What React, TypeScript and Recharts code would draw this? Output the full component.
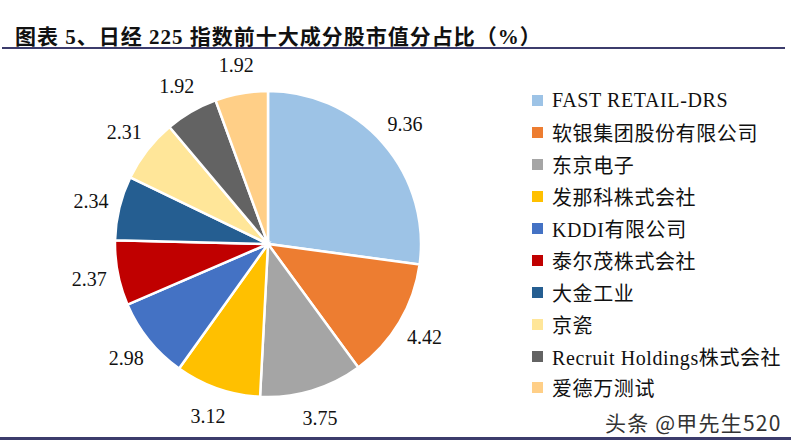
import React from 'react';
import { PieChart, Pie, Cell, Legend } from 'recharts';

const names = [
  'FAST RETAIL-DRS',
  '软银集团股份有限公司',
  '东京电子',
  '发那科株式会社',
  'KDDI有限公司',
  '泰尔茂株式会社',
  '大金工业',
  '京瓷',
  'Recruit Holdings株式会社',
  '爱德万测试',
];
const shares = [9.36, 4.42, 3.75, 3.12, 2.98, 2.37, 2.34, 2.31, 1.92, 1.92];
const colors = ['#9DC3E6', '#ED7D31', '#A5A5A5', '#FFC000', '#4472C4', '#C00000', '#255E91', '#FFE699', '#636363', '#FFCF87'];

const data = names.map((name, i) => ({ name, value: shares[i] }));

const RADIAN = Math.PI / 180;
const serif = '"Liberation Serif", "Noto Sans CJK SC", serif';

const renderLabel = (props: any) => {
  const { cx, cy, midAngle, outerRadius, value } = props;
  const r = outerRadius + 29;
  const x = cx + r * Math.cos(-midAngle * RADIAN);
  const y = cy + r * Math.sin(-midAngle * RADIAN);
  return (
    <text x={x} y={y} textAnchor="middle" dominantBaseline="central" fill="#111" fontSize={20} fontFamily={serif}>
      {value.toFixed(2)}
    </text>
  );
};

const renderLegend = () => (
  <div style={{ fontFamily: serif, fontSize: 20, color: '#111', letterSpacing: 0.6 }}>
    {data.map((d, i) => (
      <div key={d.name} style={{ display: 'flex', alignItems: 'center', height: 31.9 }}>
        <span style={{ width: 11, height: 11, background: colors[i], display: 'inline-block', marginRight: 9 }} />
        <span>{d.name}</span>
      </div>
    ))}
  </div>
);

export default function App() {
  return (
    <div style={{ position: 'absolute', left: 0, top: 0, width: 791, height: 440, background: '#fff', overflow: 'hidden' }}>
      <div
        style={{
          position: 'absolute',
          left: 15,
          top: 20,
          fontFamily: serif,
          fontWeight: 'bold',
          fontSize: 21,
          letterSpacing: 1,
          color: '#111',
          whiteSpace: 'pre',
        }}
      >
        图表 5、日经 225 指数前十大成分股市值分占比（%）
      </div>
      <div style={{ position: 'absolute', left: 2, top: 47, width: 783, height: 2, background: '#3C3C6C' }} />
      <PieChart width={791} height={440} margin={{ top: 0, right: 0, bottom: 0, left: 0 }}>
        <Pie
          data={data}
          dataKey="value"
          nameKey="name"
          cx={268}
          cy={244}
          outerRadius={153}
          startAngle={90}
          endAngle={-270}
          stroke="#fff"
          strokeWidth={2.5}
          label={renderLabel}
          labelLine={false}
          isAnimationActive={false}
        >
          {data.map((d, i) => (
            <Cell key={d.name} fill={colors[i]} />
          ))}
        </Pie>
        <Legend
          content={renderLegend}
          layout="vertical"
          align="right"
          verticalAlign="middle"
          wrapperStyle={{ position: 'absolute', left: 532, top: 85, width: 259 }}
        />
      </PieChart>
      <div
        style={{
          position: 'absolute',
          left: 605,
          top: 408,
          fontFamily: '"Noto Sans CJK SC", sans-serif',
          fontSize: 21,
          letterSpacing: 1.2,
          color: '#333',
          whiteSpace: 'nowrap',
          lineHeight: '28px',
        }}
      >
        头条 @甲先生520
      </div>
      <div style={{ position: 'absolute', left: 0, top: 437, width: 791, height: 3, background: '#3C3C6C' }} />
    </div>
  );
}
